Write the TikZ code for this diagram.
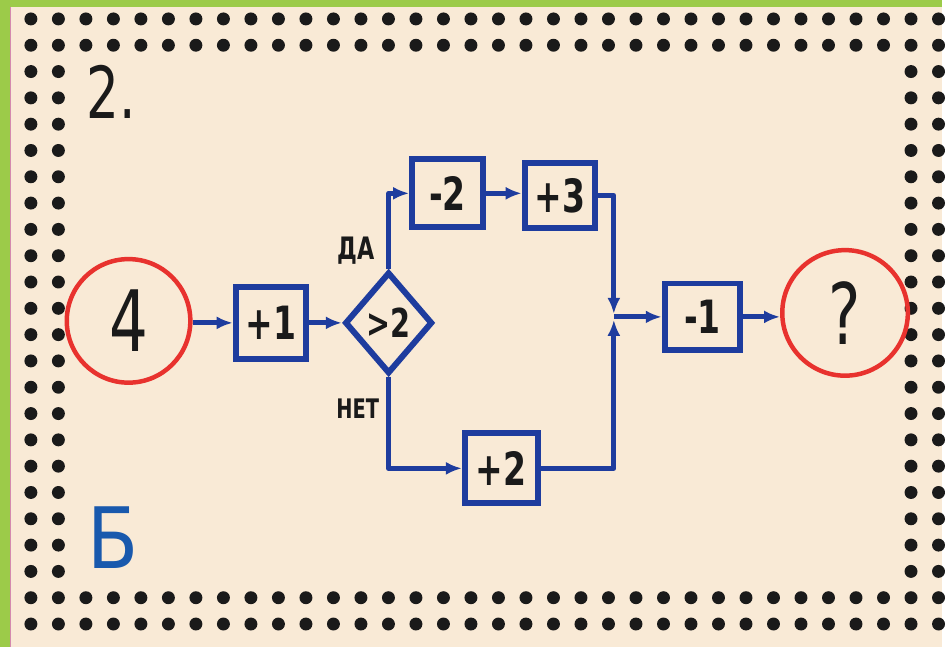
\documentclass[tikz,border=0pt]{standalone}
\usepackage{fontspec}
\setmainfont{DejaVu Sans}
\newfontfamily\handfont[FakeStretch=0.72]{DejaVu Sans}
\newfontfamily\wideink[FakeStretch=0.88]{DejaVu Sans}
\usetikzlibrary{shapes.geometric,arrows.meta,positioning}
\definecolor{PB}{HTML}{1E3C9E}
\definecolor{PR}{HTML}{E8322E}
\definecolor{INK}{HTML}{1A1A1A}
\definecolor{CARD}{HTML}{F9EAD6}
\definecolor{LEAF}{HTML}{9CCB49}

\begin{document}
\begin{tikzpicture}[x=1pt,y=-1pt,
    opbox/.style={draw=PB, line width=6pt, inner sep=0pt,
      minimum width=71pt, minimum height=68pt, text=INK,
      font=\handfont\bfseries\fontsize{46}{46}\selectfont},
    endcirc/.style={circle, draw=PR, line width=4.5pt, inner sep=0pt,
      minimum size=124pt, text=INK,
      font=\handfont\fontsize{85}{85}\selectfont},
    flow/.style={draw=PB, line width=5pt, line join=round,
      -{Latex[length=16pt,width=13pt]}},
    branch/.style={text=INK, font=\handfont\bfseries\fontsize{#1}{#1}\selectfont}]
  %% card and background
  \fill[LEAF] (0,0) rectangle (945,649);
  \fill[CARD] (10,7) rectangle (945,649);
  \draw[PR!40!violet!50, line width=1pt] (10.5,7) -- (10.5,649);
  %% dotted frame
  \foreach \ii in {0,...,33}{
    \foreach \jj in {0,1,22,23}{
      \fill[INK] (31+\ii*27.6, 19+\jj*26.4) circle (6.5pt);
    }
  }
  \foreach \jj in {2,...,21}{
    \foreach \ii in {0,1,32,33}{
      \fill[INK] (31+\ii*27.6, 19+\jj*26.4) circle (6.5pt);
    }
  }
  %% corner marks
  \node[text=INK, font=\handfont\fontsize{72}{72}\selectfont] (num) at (112,92) {2.};
  \node[text=PB!85!cyan, font=\wideink\fontsize{85}{85}\selectfont] (var) at (113,539) {Б};
  %% scheme
  \node[endcirc] (start) at (129,322) {4};
  \node[opbox, minimum height=72pt] (p1) at (272,324) {+1};
  \node[diamond, draw=PB, line width=6pt, inner sep=0pt, aspect=0.86,
        minimum width=88pt, minimum height=102pt, text=INK,
        font=\handfont\bfseries\fontsize{40}{40}\selectfont] (test) at (390,324) {>2};
  \node[opbox] (m2) at (449,194) {-2};
  \node[opbox, minimum height=65pt] (p3) at (562,196) {+3};
  \node[opbox, minimum width=73pt, minimum height=70pt] (p2) at (503,470) {+2};
  \node[opbox, minimum width=76pt, minimum height=67pt] (m1) at (705,318) {-1};
  \node[endcirc, minimum size=126pt] (finish) at (848,314) {?};
  \coordinate (merge) at (616,318);
  %% branch labels
  \node[branch=31] (yes) at (357,252) {ДА};
  \node[branch=27] (no) at (359,410) {НЕТ};
  %% connectors
  \draw[flow] (start.east |- p1.west) -- (p1.west);
  \draw[flow] (p1.east) -- (test.west);
  \draw[flow] (test.north) |- (m2.west);
  \draw[flow] (m2.east) -- (m2.east -| p3.west);
  \draw[flow, shorten >=3pt] (p3.east) -| (merge);
  \draw[flow] (test.south) |- (p2.west);
  \draw[flow, shorten >=3pt] (p2.east) -| (merge);
  \draw[flow] (merge) -- (m1.west);
  \draw[flow] (m1.east) -- (m1.east -| finish.west);
\end{tikzpicture}
\end{document}
